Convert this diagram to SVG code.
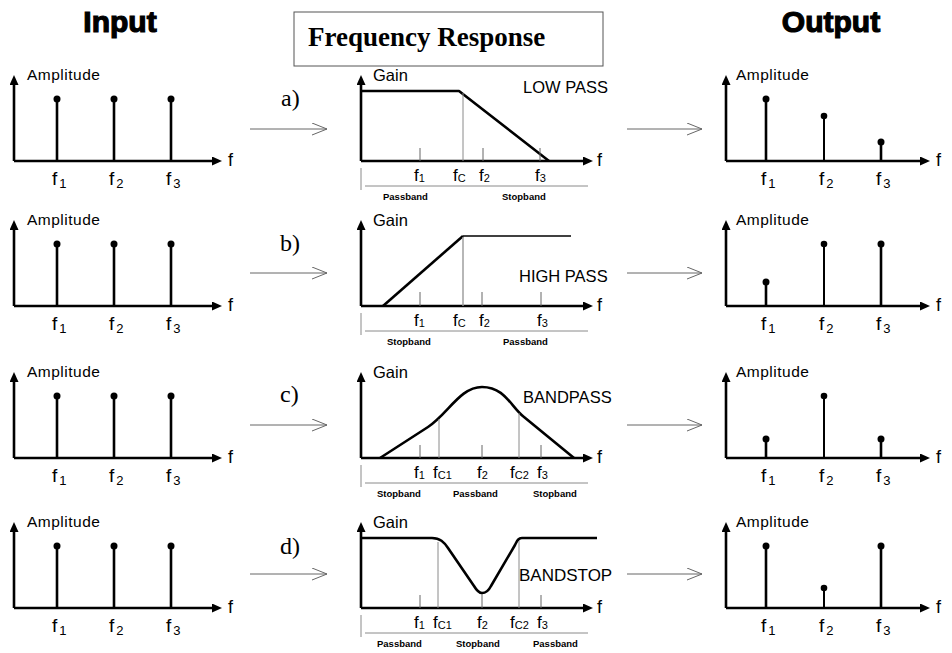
<svg xmlns="http://www.w3.org/2000/svg" width="952" height="653" viewBox="0 0 952 653">
<defs>
<marker id="ah" markerUnits="userSpaceOnUse" markerWidth="11" markerHeight="10" refX="2" refY="4.5" orient="auto"><path d="M0,0 L10,4.5 L0,9 z" fill="#000"/></marker>
<marker id="oa" markerUnits="userSpaceOnUse" markerWidth="17" markerHeight="14" refX="15" refY="6.5" orient="auto"><path d="M0,0.5 L15,6.5 L0,12.5" fill="none" stroke="#666" stroke-width="1"/></marker>
</defs>
<style>
text{font-family:"Liberation Sans",Arial,sans-serif;fill:#000}
.ttl{font-size:30px;font-weight:bold;stroke:#000;stroke-width:1.2}
.fr{font-family:"Liberation Serif","Times New Roman",serif;font-size:27px;font-weight:bold}
.lt{font-family:"Liberation Serif","Times New Roman",serif;font-size:24px}
.amp{font-size:15.5px;letter-spacing:0.5px}
.gain{font-size:16.5px}
.typ{font-size:16.5px}
.ax{stroke:#000;stroke-width:2.6;fill:none;marker-end:url(#ah)}
.st{stroke:#000;stroke-width:2.6}
.st2{stroke:#000;stroke-width:2}
.cv{stroke:#000;stroke-width:2.6;fill:none;stroke-linejoin:round}
.thin{stroke:#8a8a8a;stroke-width:1;fill:none}
.tk{stroke:#666;stroke-width:1}
.fi{font-size:19px}
.si{font-size:13px}
.fl{font-size:17px}
.sb{font-size:11px}
.fx{font-size:18px}
.band{font-size:9.5px;font-weight:bold}
.conn{stroke:#666;stroke-width:1;fill:none;marker-end:url(#oa)}
</style>
<rect width="952" height="653" fill="#fff"/>

<g id="titles">
<text class="ttl" x="120" y="32" text-anchor="middle">Input</text>
<text class="ttl" x="831" y="32" text-anchor="middle">Output</text>
</g>
<g id="freq-title">
<rect x="294" y="12" width="309" height="54" fill="#fff" stroke="#555" stroke-width="1"/>
<text class="fr" x="308" y="46">Frequency Response</text>
</g>

<!-- INPUT PANELS -->
<g id="input-a">
<line class="ax" x1="14" y1="161" x2="14" y2="83"/>
<line class="ax" x1="14" y1="161" x2="214" y2="161"/>
<text class="amp" x="27" y="80">Amplitude</text>
<text class="fx" x="228" y="166">f</text>
<line class="st" x1="57" y1="161" x2="57" y2="99"/><circle cx="57" cy="99" r="3.5"/>
<line class="st" x1="114" y1="161" x2="114" y2="99"/><circle cx="114" cy="99" r="3.5"/>
<line class="st" x1="171" y1="161" x2="171" y2="99"/><circle cx="171" cy="99" r="3.5"/>
<text class="fi" x="52" y="185">f<tspan class="si" dx="2" dy="3">1</tspan></text>
<text class="fi" x="109" y="185">f<tspan class="si" dx="2" dy="3">2</tspan></text>
<text class="fi" x="166" y="185">f<tspan class="si" dx="2" dy="3">3</tspan></text>
</g>
<g id="input-b">
<line class="ax" x1="14" y1="306" x2="14" y2="228"/>
<line class="ax" x1="14" y1="306" x2="214" y2="306"/>
<text class="amp" x="27" y="225">Amplitude</text>
<text class="fx" x="228" y="311">f</text>
<line class="st" x1="57" y1="306" x2="57" y2="244"/><circle cx="57" cy="244" r="3.5"/>
<line class="st" x1="114" y1="306" x2="114" y2="244"/><circle cx="114" cy="244" r="3.5"/>
<line class="st" x1="171" y1="306" x2="171" y2="244"/><circle cx="171" cy="244" r="3.5"/>
<text class="fi" x="52" y="330">f<tspan class="si" dx="2" dy="3">1</tspan></text>
<text class="fi" x="109" y="330">f<tspan class="si" dx="2" dy="3">2</tspan></text>
<text class="fi" x="166" y="330">f<tspan class="si" dx="2" dy="3">3</tspan></text>
</g>
<g id="input-c">
<line class="ax" x1="14" y1="458" x2="14" y2="380"/>
<line class="ax" x1="14" y1="458" x2="214" y2="458"/>
<text class="amp" x="27" y="377">Amplitude</text>
<text class="fx" x="228" y="463">f</text>
<line class="st" x1="57" y1="458" x2="57" y2="396"/><circle cx="57" cy="396" r="3.5"/>
<line class="st" x1="114" y1="458" x2="114" y2="396"/><circle cx="114" cy="396" r="3.5"/>
<line class="st" x1="171" y1="458" x2="171" y2="396"/><circle cx="171" cy="396" r="3.5"/>
<text class="fi" x="52" y="482">f<tspan class="si" dx="2" dy="3">1</tspan></text>
<text class="fi" x="109" y="482">f<tspan class="si" dx="2" dy="3">2</tspan></text>
<text class="fi" x="166" y="482">f<tspan class="si" dx="2" dy="3">3</tspan></text>
</g>
<g id="input-d">
<line class="ax" x1="14" y1="608" x2="14" y2="530"/>
<line class="ax" x1="14" y1="608" x2="214" y2="608"/>
<text class="amp" x="27" y="527">Amplitude</text>
<text class="fx" x="228" y="613">f</text>
<line class="st" x1="57" y1="608" x2="57" y2="546"/><circle cx="57" cy="546" r="3.5"/>
<line class="st" x1="114" y1="608" x2="114" y2="546"/><circle cx="114" cy="546" r="3.5"/>
<line class="st" x1="171" y1="608" x2="171" y2="546"/><circle cx="171" cy="546" r="3.5"/>
<text class="fi" x="52" y="632">f<tspan class="si" dx="2" dy="3">1</tspan></text>
<text class="fi" x="109" y="632">f<tspan class="si" dx="2" dy="3">2</tspan></text>
<text class="fi" x="166" y="632">f<tspan class="si" dx="2" dy="3">3</tspan></text>
</g>

<!-- FILTER PANELS -->
<g id="filter-a">
<text class="lt" x="281" y="106">a)</text>
<line class="ax" x1="361" y1="161" x2="361" y2="83"/>
<line class="ax" x1="361" y1="161" x2="585" y2="161"/>
<text class="gain" x="373" y="81">Gain</text>
<text class="fx" x="597" y="166">f</text>
<polyline class="cv" points="361,91 459,91 549,161"/>
<line class="thin" x1="463" y1="93" x2="463" y2="161"/>
<line class="tk" x1="420" y1="148" x2="420" y2="161"/>
<line class="tk" x1="483" y1="148" x2="483" y2="161"/>
<line class="tk" x1="540" y1="148" x2="540" y2="161"/>
<text class="typ" x="523" y="93">LOW PASS</text>
<text class="fl" x="414" y="181">f<tspan class="sb" dy="1">1</tspan></text>
<text class="fl" x="453" y="181">f<tspan class="sb" dy="1">C</tspan></text>
<text class="fl" x="479" y="181">f<tspan class="sb" dy="1">2</tspan></text>
<text class="fl" x="535" y="181">f<tspan class="sb" dy="1">3</tspan></text>
<line class="thin" x1="361" y1="168" x2="361" y2="190"/>
<line class="thin" x1="365" y1="186" x2="588" y2="186"/>
<text class="band" x="383" y="200">Passband</text>
<text class="band" x="502" y="200">Stopband</text>
</g>
<g id="filter-b">
<text class="lt" x="280" y="251">b)</text>
<line class="ax" x1="361" y1="306" x2="361" y2="228"/>
<line class="ax" x1="361" y1="306" x2="585" y2="306"/>
<text class="gain" x="373" y="226">Gain</text>
<text class="fx" x="597" y="311">f</text>
<line class="cv" x1="383" y1="306" x2="463" y2="236"/>
<line stroke="#000" stroke-width="1.6" x1="463" y1="236" x2="571" y2="236"/>
<line stroke="#999" stroke-width="1.4" x1="463" y1="237" x2="463" y2="306"/>
<line class="tk" x1="420" y1="292" x2="420" y2="306"/>
<line class="tk" x1="482" y1="292" x2="482" y2="306"/>
<line class="tk" x1="541" y1="292" x2="541" y2="306"/>
<text class="typ" x="519" y="282">HIGH PASS</text>
<text class="fl" x="414" y="326">f<tspan class="sb" dy="1">1</tspan></text>
<text class="fl" x="453" y="326">f<tspan class="sb" dy="1">C</tspan></text>
<text class="fl" x="479" y="326">f<tspan class="sb" dy="1">2</tspan></text>
<text class="fl" x="537" y="326">f<tspan class="sb" dy="1">3</tspan></text>
<line class="thin" x1="361" y1="313" x2="361" y2="335"/>
<line class="thin" x1="365" y1="331" x2="588" y2="331"/>
<text class="band" x="387" y="345">Stopband</text>
<text class="band" x="503" y="345">Passband</text>
</g>
<g id="filter-c">
<text class="lt" x="280" y="402">c)</text>
<line class="ax" x1="361" y1="458" x2="361" y2="380"/>
<line class="ax" x1="361" y1="458" x2="585" y2="458"/>
<text class="gain" x="373" y="378">Gain</text>
<text class="fx" x="597" y="463">f</text>
<path class="cv" d="M380,458 L428,427 C448,414 460,387 482,387 C505,387 511,407 524,417 L574,458"/>
<line class="thin" x1="439" y1="419" x2="439" y2="458"/>
<line class="thin" x1="519" y1="413" x2="519" y2="458"/>
<line class="tk" x1="420" y1="445" x2="420" y2="458"/>
<line class="tk" x1="482" y1="445" x2="482" y2="458"/>
<line class="tk" x1="541" y1="445" x2="541" y2="458"/>
<text class="typ" x="523" y="403">BANDPASS</text>
<text class="fl" x="414" y="478">f<tspan class="sb" dy="1">1</tspan></text>
<text class="fl" x="433" y="478">f<tspan class="sb" dy="1">C1</tspan></text>
<text class="fl" x="477" y="478">f<tspan class="sb" dy="1">2</tspan></text>
<text class="fl" x="510" y="478">f<tspan class="sb" dy="1">C2</tspan></text>
<text class="fl" x="537" y="478">f<tspan class="sb" dy="1">3</tspan></text>
<line class="thin" x1="361" y1="465" x2="361" y2="487"/>
<line class="thin" x1="365" y1="483" x2="588" y2="483"/>
<text class="band" x="377" y="497">Stopband</text>
<text class="band" x="453" y="497">Passband</text>
<text class="band" x="533" y="497">Stopband</text>
</g>
<g id="filter-d">
<text class="lt" x="280" y="554">d)</text>
<line class="ax" x1="361" y1="608" x2="361" y2="530"/>
<line class="ax" x1="361" y1="608" x2="585" y2="608"/>
<text class="gain" x="373" y="528">Gain</text>
<text class="fx" x="597" y="613">f</text>
<path class="cv" d="M362,538 L432,538 C440,538 444,542 448,548 L474,586 C477,591 479,593 482,593 C486,593 489,590 491,586 L515,545 C517,541 518,538 522,538 L597,538"/>
<line class="thin" x1="438" y1="542" x2="438" y2="608"/>
<line class="thin" x1="519" y1="541" x2="519" y2="608"/>
<line class="tk" x1="420" y1="595" x2="420" y2="608"/>
<line class="tk" x1="482" y1="594" x2="482" y2="608"/>
<line class="tk" x1="541" y1="595" x2="541" y2="608"/>
<text class="typ" x="519" y="581" style="font-size:17px">BANDSTOP</text>
<text class="fl" x="414" y="628">f<tspan class="sb" dy="1">1</tspan></text>
<text class="fl" x="433" y="628">f<tspan class="sb" dy="1">C1</tspan></text>
<text class="fl" x="477" y="628">f<tspan class="sb" dy="1">2</tspan></text>
<text class="fl" x="510" y="628">f<tspan class="sb" dy="1">C2</tspan></text>
<text class="fl" x="537" y="628">f<tspan class="sb" dy="1">3</tspan></text>
<line class="thin" x1="361" y1="615" x2="361" y2="637"/>
<line class="thin" x1="365" y1="633" x2="588" y2="633"/>
<text class="band" x="377" y="647">Passband</text>
<text class="band" x="456" y="647">Stopband</text>
<text class="band" x="533" y="647">Passband</text>
</g>

<!-- OUTPUT PANELS -->
<g id="output-a">
<line class="ax" x1="726" y1="161" x2="726" y2="83"/>
<line class="ax" x1="726" y1="161" x2="922" y2="161"/>
<text class="amp" x="736" y="80">Amplitude</text>
<text class="fx" x="936" y="166">f</text>
<line class="st" x1="766" y1="161" x2="766" y2="99"/><circle cx="766" cy="99" r="3.5"/>
<line class="st2" x1="824" y1="161" x2="824" y2="116"/><circle cx="824" cy="116" r="3.3"/>
<line class="st" x1="881" y1="161" x2="881" y2="142"/><circle cx="881" cy="142" r="3.5"/>
<text class="fi" x="761" y="185">f<tspan class="si" dx="2" dy="3">1</tspan></text>
<text class="fi" x="819" y="185">f<tspan class="si" dx="2" dy="3">2</tspan></text>
<text class="fi" x="876" y="185">f<tspan class="si" dx="2" dy="3">3</tspan></text>
</g>
<g id="output-b">
<line class="ax" x1="726" y1="306" x2="726" y2="228"/>
<line class="ax" x1="726" y1="306" x2="922" y2="306"/>
<text class="amp" x="736" y="225">Amplitude</text>
<text class="fx" x="936" y="311">f</text>
<line class="st" x1="766" y1="306" x2="766" y2="282"/><circle cx="766" cy="282" r="3.5"/>
<line class="st2" x1="824" y1="306" x2="824" y2="244"/><circle cx="824" cy="244" r="3.3"/>
<line class="st" x1="881" y1="306" x2="881" y2="244"/><circle cx="881" cy="244" r="3.5"/>
<text class="fi" x="761" y="330">f<tspan class="si" dx="2" dy="3">1</tspan></text>
<text class="fi" x="819" y="330">f<tspan class="si" dx="2" dy="3">2</tspan></text>
<text class="fi" x="876" y="330">f<tspan class="si" dx="2" dy="3">3</tspan></text>
</g>
<g id="output-c">
<line class="ax" x1="726" y1="458" x2="726" y2="380"/>
<line class="ax" x1="726" y1="458" x2="922" y2="458"/>
<text class="amp" x="736" y="377">Amplitude</text>
<text class="fx" x="936" y="463">f</text>
<line class="st" x1="766" y1="458" x2="766" y2="439"/><circle cx="766" cy="439" r="3.5"/>
<line class="st2" x1="824" y1="458" x2="824" y2="396"/><circle cx="824" cy="396" r="3.3"/>
<line class="st" x1="881" y1="458" x2="881" y2="439"/><circle cx="881" cy="439" r="3.5"/>
<text class="fi" x="761" y="482">f<tspan class="si" dx="2" dy="3">1</tspan></text>
<text class="fi" x="819" y="482">f<tspan class="si" dx="2" dy="3">2</tspan></text>
<text class="fi" x="876" y="482">f<tspan class="si" dx="2" dy="3">3</tspan></text>
</g>
<g id="output-d">
<line class="ax" x1="726" y1="608" x2="726" y2="530"/>
<line class="ax" x1="726" y1="608" x2="922" y2="608"/>
<text class="amp" x="736" y="527">Amplitude</text>
<text class="fx" x="936" y="613">f</text>
<line class="st" x1="766" y1="608" x2="766" y2="546"/><circle cx="766" cy="546" r="3.5"/>
<line class="st2" x1="824" y1="608" x2="824" y2="588"/><circle cx="824" cy="588" r="3.3"/>
<line class="st" x1="881" y1="608" x2="881" y2="546"/><circle cx="881" cy="546" r="3.5"/>
<text class="fi" x="761" y="632">f<tspan class="si" dx="2" dy="3">1</tspan></text>
<text class="fi" x="819" y="632">f<tspan class="si" dx="2" dy="3">2</tspan></text>
<text class="fi" x="876" y="632">f<tspan class="si" dx="2" dy="3">3</tspan></text>
</g>

<g id="connectors">
<line class="conn" x1="250" y1="129" x2="327" y2="129"/>
<line class="conn" x1="627" y1="129" x2="702" y2="129"/>
<line class="conn" x1="250" y1="273" x2="327" y2="273"/>
<line class="conn" x1="627" y1="273" x2="702" y2="273"/>
<line class="conn" x1="250" y1="425" x2="327" y2="425"/>
<line class="conn" x1="627" y1="425" x2="702" y2="425"/>
<line class="conn" x1="250" y1="574" x2="327" y2="574"/>
<line class="conn" x1="627" y1="574" x2="702" y2="574"/>
</g>
</svg>
